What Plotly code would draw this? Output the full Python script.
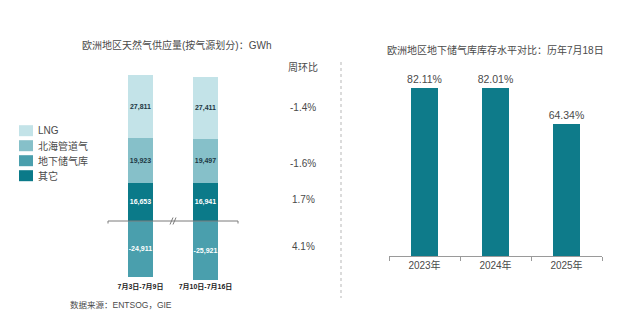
import plotly.graph_objects as go

# ---- data: weekly European gas supply by source (GWh) ----
weeks = ["7月3日-7月9日", "7月10日-7月16日"]
other = [16653, 16941]
storage = [-24911, -25921]
north_sea = [19923, 19497]
lng = [27811, 27411]
wow_change = ["-1.4%", "-1.6%", "1.7%", "4.1%"]  # LNG, 北海管道气, 其它, 地下储气库

# ---- data: underground storage fill level on 18 July ----
years = ["2023年", "2024年", "2025年"]
fill_pct = [82.11, 82.01, 64.34]

W, H = 640, 322
FONT = "Arial, Liberation Sans, Noto Sans CJK SC, sans-serif"

C_LNG = "#c3e3e8"
C_NS = "#86c0c9"
C_ST = "#4a9fad"
C_OT = "#0b7a89"
C_BAR = "#0e7b8a"
DARK_LBL = "#1d3844"
GREY_TXT = "#4a4a4a"


def px(x):
    return x / W


def py(y):
    return 1 - y / H


# left panel vertical scale: pixels per GWh, zero line at y=221
S = 0.002262
ZERO_Y = 221
L_TOP, L_BOT = 60, 281
left_range = [-(L_BOT - ZERO_Y) / S, (ZERO_Y - L_TOP) / S]

# right panel vertical scale: pixels per percentage point
S2 = 2.046
R_TOP, R_BOT = 60, 256
right_range = [0, (R_BOT - R_TOP) / S2]

fig = go.Figure()

series = [
    ("其它", other, C_OT, "white"),
    ("地下储气库", storage, C_ST, "white"),
    ("北海管道气", north_sea, C_NS, DARK_LBL),
    ("LNG", lng, C_LNG, DARK_LBL),
]
for name, vals, col, tcol in series:
    fig.add_trace(go.Bar(
        x=weeks, y=vals, name=name, marker=dict(color=col, line=dict(width=0)),
        text=[f"{v:,}" for v in vals], textposition="inside",
        insidetextanchor="middle", textangle=0, constraintext="none",
        textfont=dict(size=7, color=tcol, family=FONT, weight="bold"),
        width=0.385, xaxis="x", yaxis="y", showlegend=False,
    ))

fig.add_trace(go.Bar(
    x=years, y=fill_pct, marker=dict(color=C_BAR, line=dict(width=0)),
    text=[f"{v:.2f}%" for v in fill_pct], textposition="outside",
    constraintext="none", textangle=0,
    textfont=dict(size=10.5, color=GREY_TXT, family=FONT), cliponaxis=False,
    width=0.394, xaxis="x2", yaxis="y2", showlegend=False,
))

annotations = []
shapes = []


def label(x, y, text, size=10, anchor="center", color=GREY_TXT):
    annotations.append(dict(x=px(x), y=py(y), text=text, showarrow=False,
                            xref="paper", yref="paper", xanchor=anchor, yanchor="middle",
                            font=dict(size=size, color=color, family=FONT)))


# titles
label(176, 45, "欧洲地区天然气供应量(按气源划分)：GWh")
label(495, 50, "欧洲地区地下储气库库存水平对比：历年7月18日")

# week-on-week column
label(303, 68, "周环比")
for txt, yy in zip(wow_change, [108, 163, 200, 247]):
    label(303, yy, txt)

# legend (top to bottom)
legend_items = [("LNG", C_LNG), ("北海管道气", C_NS), ("地下储气库", C_ST), ("其它", C_OT)]
for i, (name, col) in enumerate(legend_items):
    cy = 130.7 + 15 * i
    shapes.append(dict(type="rect", xref="paper", yref="paper",
                       x0=px(19), x1=px(33), y0=py(cy + 5.5), y1=py(cy - 5.5),
                       fillcolor=col, line=dict(width=0)))
    label(36, cy, name, anchor="left")

# source note
label(68, 305, "数据来源：ENTSOG，GIE", size=8.5, anchor="left")

# left zero line with bracket ends and a break mark
LINE_C = "#7a7a7a"
shapes.append(dict(type="line", xref="paper", yref="y", x0=px(108), x1=px(238),
                   y0=0, y1=0, line=dict(color=LINE_C, width=1), layer="above"))
for xe in (108, 238):
    shapes.append(dict(type="line", xref="paper", yref="paper", x0=px(xe), x1=px(xe),
                       y0=py(ZERO_Y), y1=py(ZERO_Y + 2.5), line=dict(color=LINE_C, width=1)))
for dx in (-1.5, 1.5):
    shapes.append(dict(type="line", xref="paper", yref="paper",
                       x0=px(173 + dx - 1.5), x1=px(173 + dx + 1.5),
                       y0=py(ZERO_Y + 3.5), y1=py(ZERO_Y - 3.5),
                       line=dict(color=LINE_C, width=1)))

# dotted divider between panels
shapes.append(dict(type="line", xref="paper", yref="paper", x0=px(341), x1=px(341),
                   y0=py(62), y1=py(298), line=dict(color="#cfcfcf", width=1.5, dash="dot")))

fig.update_layout(
    width=W, height=H, margin=dict(l=0, r=0, t=0, b=0),
    paper_bgcolor="white", plot_bgcolor="rgba(0,0,0,0)",
    barmode="relative", bargap=0,
    font=dict(family=FONT, color=GREY_TXT),
    xaxis=dict(domain=[px(108), px(238)], range=[-0.5, 1.5], showgrid=False,
               showline=False, zeroline=False, ticks="", anchor="y",
               tickfont=dict(size=7, color="#222222", family=FONT, weight="bold")),
    yaxis=dict(domain=[py(L_BOT), py(L_TOP)], range=left_range, visible=False,
               showgrid=False, zeroline=False),
    xaxis2=dict(domain=[px(389), px(602)], range=[-0.5, 2.5], showgrid=False,
                showline=True, linecolor="#9a9a9a", linewidth=1, ticks="outside",
                tickson="boundaries", ticklen=4, tickcolor="#9a9a9a", anchor="y2",
                tickfont=dict(size=10, color=GREY_TXT, family=FONT)),
    yaxis2=dict(domain=[py(R_BOT), py(R_TOP)], range=right_range, visible=False,
                showgrid=False, zeroline=False, anchor="x2"),
    annotations=annotations, shapes=shapes,
)

fig.write_html("out.html")
